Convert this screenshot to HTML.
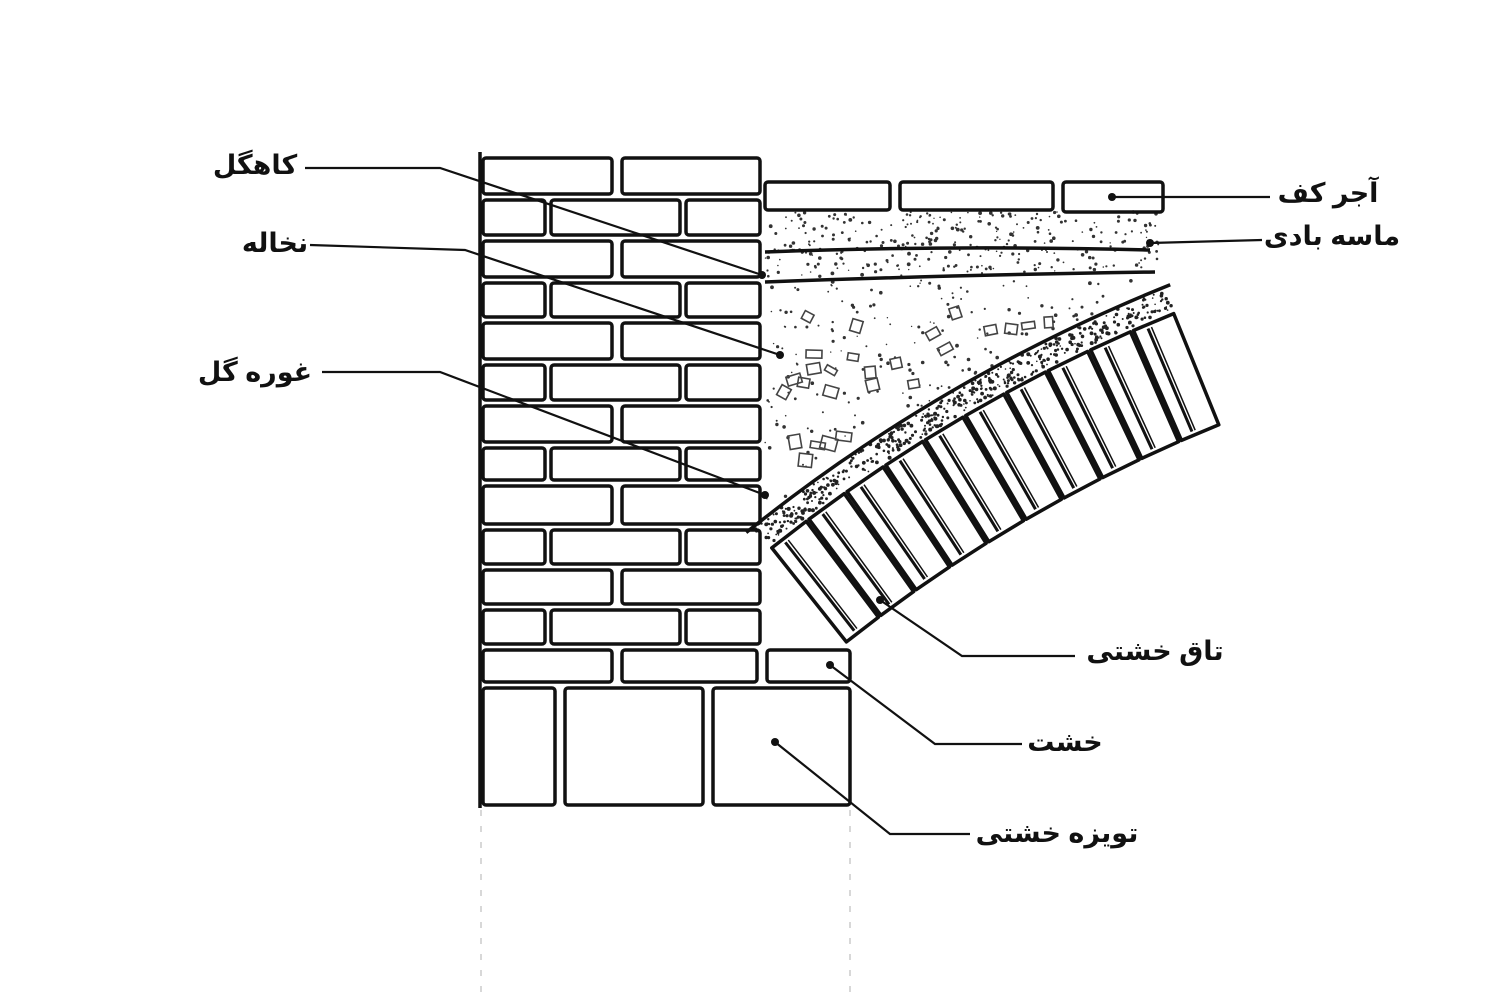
<!DOCTYPE html>
<html><head><meta charset="utf-8">
<style>
html,body{margin:0;padding:0;background:#fff;}
svg{display:block;}
text{font-family:"Liberation Sans","DejaVu Sans",sans-serif;font-weight:bold;font-size:27px;fill:#111;}
</style></head>
<body>
<svg id="s" width="1500" height="1000" viewBox="0 0 1500 1000" xmlns="http://www.w3.org/2000/svg">
<rect width="1500" height="1000" fill="#fff"/>
<g id="stip"></g>
<g id="g" fill="none" stroke="#111" stroke-width="3.5" stroke-linejoin="round"></g>
<g fill="none" stroke="#ccc" stroke-width="1.5" stroke-dasharray="6 10">
<line x1="481" y1="810" x2="481" y2="1000"/><line x1="850" y1="810" x2="850" y2="1000"/>
</g>
<g fill="none" stroke="#111" stroke-width="2.2">
<polyline points="305,168 440,168 762,275"/>
<polyline points="310,245 465,250 780,355"/>
<polyline points="322,372 440,372 765,495"/>
<polyline points="1270,197 1112,197"/>
<polyline points="1262,240 1150,243"/>
<polyline points="1075,656 962,656 880,600"/>
<polyline points="1022,744 935,744 830,665"/>
<polyline points="970,834 890,834 775,742"/>
</g>
<g fill="#111">
<circle cx="1112" cy="197" r="4"/><circle cx="1150" cy="243" r="4"/><circle cx="880" cy="600" r="4"/>
<circle cx="830" cy="665" r="4"/><circle cx="775" cy="742" r="4"/><circle cx="780" cy="355" r="4"/>
<circle cx="762" cy="275" r="4"/><circle cx="765" cy="495" r="4"/>
</g>
<g text-anchor="middle" direction="rtl">
<text x="255" y="174">کاهگل</text>
<text x="275" y="252">نخاله</text>
<text x="255" y="381">غوره گل</text>
<text x="1328" y="202">آجر کف</text>
<text x="1332" y="245">ماسه بادی</text>
<text x="1155" y="660">تاق  خشتی</text>
<text x="1065" y="751">خشت</text>
<text x="1057" y="842">تویزه خشتی</text>
</g>
</svg>
<script>
var NS="http://www.w3.org/2000/svg",g=document.getElementById('g'),st=document.getElementById('stip');
function el(n,a,p){var e=document.createElementNS(NS,n);for(var k in a)e.setAttribute(k,a[k]);(p||g).appendChild(e);return e;}
function r(x1,y1,x2,y2){el('rect',{x:x1,y:y1,width:x2-x1,height:y2-y1,rx:3});}
el('line',{x1:480,y1:152,x2:480,y2:808});
var tops=[155,197,238,280,320,362,403,445,483,527,567,607,647];
for(var i=0;i<tops.length;i++){var t=tops[i]+3,b=(i<12?tops[i+1]:685)-3;
 if(i%2==0){r(483,t,612,b); if(i==12){r(622,t,757,b);r(767,t,850,b);} else r(622,t,760,b);}
 else{r(483,t,545,b);r(551,t,680,b);r(686,t,760,b);}}
r(483,688,555,805);r(565,688,703,805);r(713,688,850,805);
r(765,182,890,210);r(900,182,1053,210);r(1063,182,1163,212);
var seed=7;function rnd(){seed=(seed*16807)%2147483647;return seed/2147483647;}
var cx=1787,cy=1827,Ro=1633,Ri=1513;
function P(a,R){var t=a*Math.PI/180;return [cx+R*Math.cos(t),cy+R*Math.sin(t)];}
function inTri(x,y){var dx=x-cx,dy=y-cy;return x>765&&x<1165&&y>282-(x-765)*0.02&&Math.sqrt(dx*dx+dy*dy)>Ro+30;}
for(var n=0;n<2200;n++){var x=765+rnd()*400,y=212+rnd()*350,ok=false;
 if(y<280-(x-765)*0.03&&x<1160)ok=rnd()<0.8;
 else if(inTri(x,y))ok=rnd()<0.3;
 if(ok)el('circle',{cx:x.toFixed(1),cy:y.toFixed(1),r:(0.7+rnd()*1.2).toFixed(1),fill:'#333'},st);}
for(var n=0;n<60;n++){var x=780+rnd()*320,y=295+rnd()*200;if(inTri(x,y)&&inTri(x+14,y+14))
 el('rect',{x:x,y:y,width:8+rnd()*8,height:6+rnd()*8,fill:'none',stroke:'#444','stroke-width':1.6,transform:'rotate('+(rnd()*60-30)+' '+x+' '+y+')'},st);}
el('path',{d:'M765 252 Q950 245 1150 250'});
el('path',{d:'M765 282 Q950 275 1155 272'});
var a0=231.5,a1=248,N=10,d=(a1-a0)/N;
for(var i=0;i<N;i++){var s=a0+i*d+0.06,e=a0+(i+1)*d-0.06;
 var p=[P(s,Ro),P(e,Ro),P(e,Ri),P(s,Ri)];
 el('polygon',{points:p.map(function(q){return q[0].toFixed(1)+','+q[1].toFixed(1)}).join(' '),fill:'#fff'});
 var m=s+d*0.3,q1=P(m,Ro-4),q2=P(m,Ri+4);
 el('line',{x1:q1[0],y1:q1[1],x2:q2[0],y2:q2[1],'stroke-width':3});
 var m2=s+d*0.38,q3=P(m2,Ro-4),q4=P(m2,Ri+4);
 el('line',{x1:q3[0],y1:q3[1],x2:q4[0],y2:q4[1],'stroke-width':1.5});}
var pa=[];for(var a=a0-0.3;a<=a1+0.2;a+=0.5){pa.push(P(a,Ro+28));}
el('polyline',{points:pa.map(function(q){return q[0].toFixed(1)+','+q[1].toFixed(1)}).join(' ')});
for(var n=0;n<500;n++){var a=a0+rnd()*(a1-a0),R=Ro+4+rnd()*22,q=P(a,R);
 el('circle',{cx:q[0].toFixed(1),cy:q[1].toFixed(1),r:(0.8+rnd()*1.2).toFixed(1),fill:'#222'},st);}
</script>
</body></html>
